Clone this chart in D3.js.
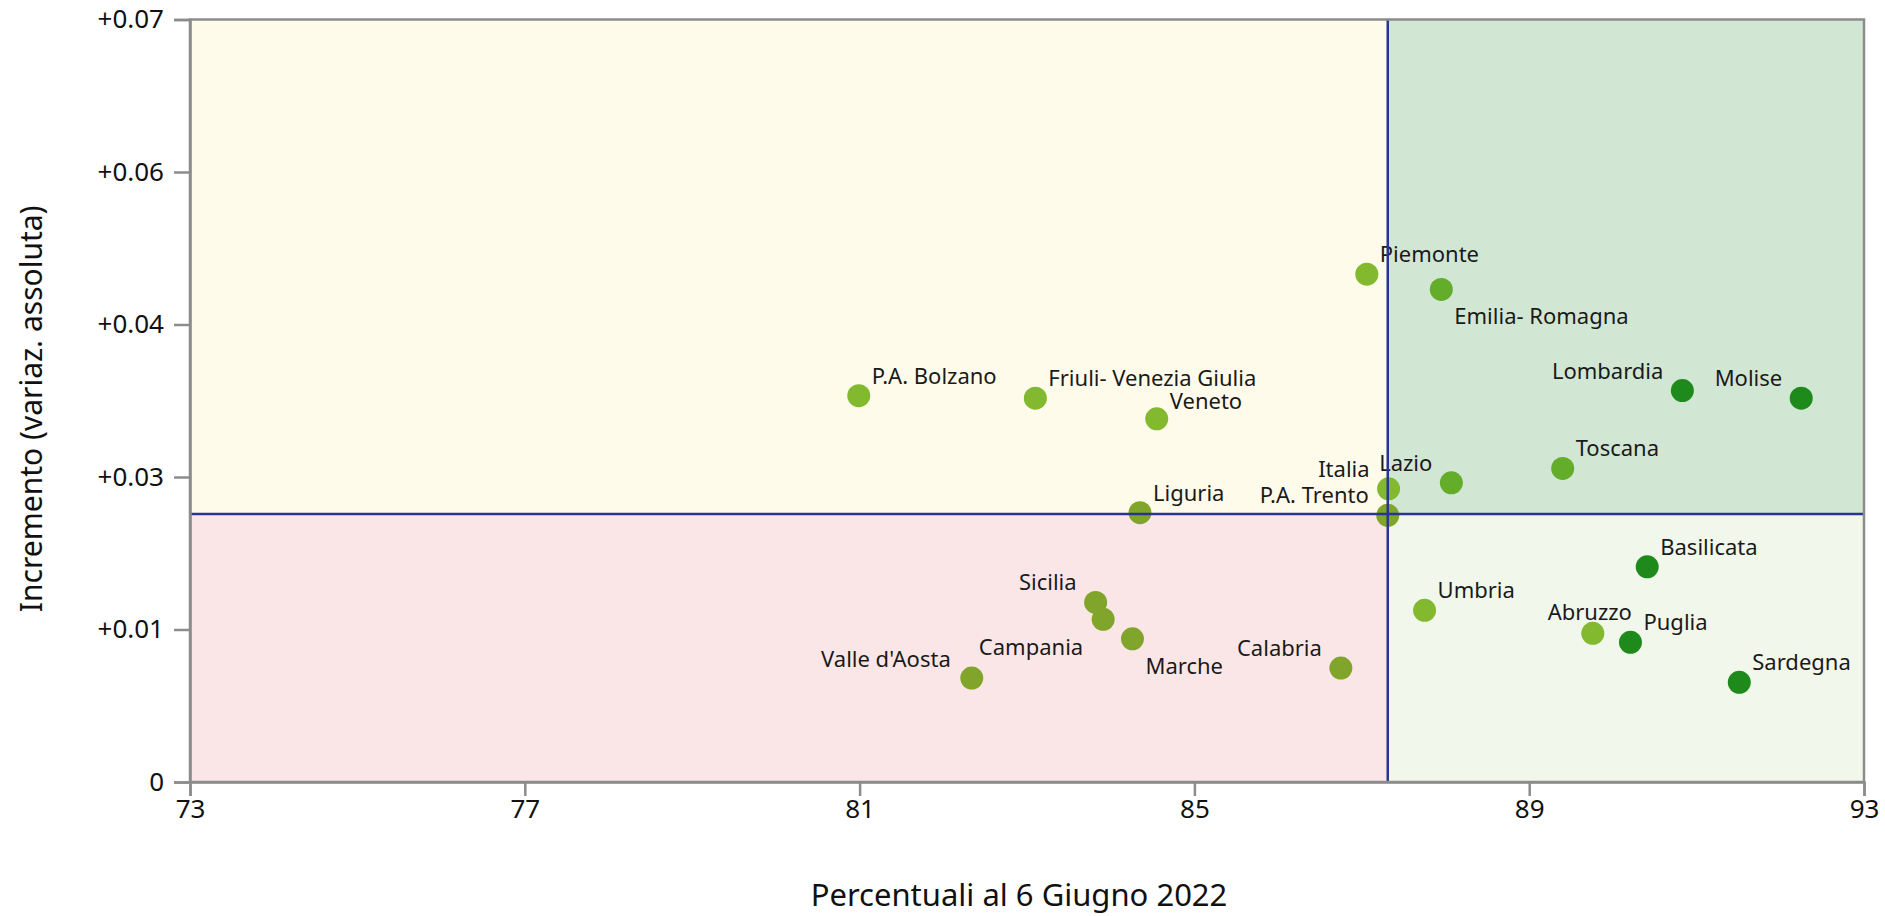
<!DOCTYPE html>
<html lang="it">
<head>
<meta charset="utf-8">
<title>Incremento vs percentuali al 6 Giugno 2022</title>
<script src="https://cdn.jsdelivr.net/npm/d3@7"></script>
<style>
  html, body { margin: 0; padding: 0; background: #ffffff; }
  svg { display: block; font-family: "Noto Sans", "Open Sans", sans-serif; }
</style>
</head>
<body>
<svg id="chart" width="1885" height="916"></svg>
<script>
// Regioni e valori
const regioni = [
  "P.A. Bolzano", "Friuli- Venezia Giulia", "Veneto", "Liguria", "Piemonte",
  "Emilia- Romagna", "Lombardia", "Molise", "Toscana", "Lazio", "Italia",
  "P.A. Trento", "Basilicata", "Umbria", "Abruzzo", "Puglia", "Sardegna",
  "Sicilia", "Campania", "Marche", "Valle d'Aosta", "Calabria"
];
// Percentuali al 6 Giugno 2022
const percentuali = [
  80.99, 83.10, 84.55, 84.35, 87.06,
  87.95, 90.83, 92.25, 89.40, 88.07, 87.32,
  87.31, 90.41, 87.75, 89.76, 90.21, 91.51,
  83.82, 83.91, 84.26, 82.34, 86.75
];
// Incremento (variazione assoluta)
const incrementi = [
  0.03547, 0.03524, 0.03334, 0.02472, 0.04662,
  0.04522, 0.03593, 0.03524, 0.02879, 0.02747, 0.02692,
  0.02448, 0.01976, 0.01576, 0.01365, 0.01282, 0.00915,
  0.01649, 0.01493, 0.01315, 0.00954, 0.01046
];
// Fascia di appartenenza di ciascuna regione
const fasce = [
  "C", "C", "C", "D", "C",
  "B", "A", "A", "B", "B", "C",
  "D", "A", "C", "C", "A", "A",
  "D", "D", "D", "D", "D"
];
// Posizione dell'etichetta rispetto al punto
const posizioni = [
  "ne", "ne", "ne", "ne", "ne",
  "se", "nw", "nw", "ne", "nw", "nw",
  "nw", "ne", "ne", "n", "ne", "ne",
  "nw", "sw", "se", "w", "nw"
];

// Valori di riferimento (linee dei quadranti)
const rifX = 87.31;
const rifY = 0.0246;

// Assi
const xDominio = [73, 93];
const yDominio = [0, 0.07];
const xTicks = [73, 77, 81, 85, 89, 93];
const yTicks = [0, 0.014, 0.028, 0.042, 0.056, 0.07];
const yTickLabels = ["0", "+0.01", "+0.03", "+0.04", "+0.06", "+0.07"];
const titoloX = "Percentuali al 6 Giugno 2022";
const titoloY = "Incremento (variaz. assoluta)";

const punti = regioni.map((r, i) => ({
  nome: r, x: percentuali[i], y: incrementi[i], fascia: fasce[i], pos: posizioni[i]
}));

const W = 1885, H = 916;
const area = { left: 190, right: 1864, top: 19.5, bottom: 782 };

const x = d3.scaleLinear().domain(xDominio).range([area.left, area.right]);
const y = d3.scaleLinear().domain(yDominio).range([area.bottom, area.top]);

const colore = d3.scaleOrdinal()
  .domain(["A", "B", "C", "D"])
  .range(["#1f8a1c", "#64ad2b", "#83b92e", "#80a52a"]);

const svg = d3.select("#chart");

// Quadranti
const quadranti = [
  { x0: xDominio[0], x1: rifX, y0: rifY, y1: yDominio[1], fill: "#fffbeb" },
  { x0: rifX, x1: xDominio[1], y0: rifY, y1: yDominio[1], fill: "#d2e7d3" },
  { x0: xDominio[0], x1: rifX, y0: yDominio[0], y1: rifY, fill: "#fbe6e7" },
  { x0: rifX, x1: xDominio[1], y0: yDominio[0], y1: rifY, fill: "#f1f7ea" }
];
svg.append("g").selectAll("rect").data(quadranti).join("rect")
  .attr("x", d => x(d.x0))
  .attr("y", d => y(d.y1))
  .attr("width", d => x(d.x1) - x(d.x0))
  .attr("height", d => y(d.y0) - y(d.y1))
  .attr("fill", d => d.fill);

// Punti
svg.append("g").selectAll("circle").data(punti).join("circle")
  .attr("cx", d => x(d.x))
  .attr("cy", d => y(d.y))
  .attr("r", 11.5)
  .attr("fill", d => colore(d.fascia));

// Etichette
const offset = {
  ne: { dx: 13, dy: -12, anchor: "start" },
  nw: { dx: -19, dy: -12, anchor: "end" },
  n:  { dx: -3, dy: -13, anchor: "middle" },
  se: { dx: 13, dy: 35, anchor: "start" },
  sw: { dx: -20, dy: 36, anchor: "end" },
  w:  { dx: -21, dy: -11, anchor: "end" }
};
svg.append("g").selectAll("text").data(punti).join("text")
  .attr("x", d => x(d.x) + offset[d.pos].dx)
  .attr("y", d => y(d.y) + offset[d.pos].dy + (d.nome === "Veneto" ? 2 : 0))
  .attr("text-anchor", d => offset[d.pos].anchor)
  .attr("font-size", 22)
  .attr("fill", "#1a1a1a")
  .text(d => d.nome);

// Linee di riferimento
const rif = svg.append("g").attr("stroke", "#283593").attr("stroke-width", 2.5);
rif.append("line")
  .attr("x1", x(rifX)).attr("x2", x(rifX))
  .attr("y1", y(yDominio[1])).attr("y2", y(yDominio[0]));
rif.append("line")
  .attr("x1", x(xDominio[0])).attr("x2", x(xDominio[1]))
  .attr("y1", y(rifY)).attr("y2", y(rifY));

// Cornice
svg.append("rect")
  .attr("x", area.left).attr("y", area.top)
  .attr("width", area.right - area.left).attr("height", area.bottom - area.top)
  .attr("fill", "none").attr("stroke", "#8c8c8c").attr("stroke-width", 2.5);

// Asse Y
const yAxis = svg.append("g")
  .attr("transform", `translate(${area.left},0)`)
  .call(d3.axisLeft(y).tickValues(yTicks)
    .tickFormat((d, i) => yTickLabels[i]).tickSize(16).tickPadding(10));

// Asse X
const xAxis = svg.append("g")
  .attr("transform", `translate(0,${area.bottom})`)
  .call(d3.axisBottom(x).tickValues(xTicks)
    .tickFormat(d3.format("d")).tickSize(14).tickPadding(4));

[xAxis, yAxis].forEach(a => {
  a.select(".domain").attr("stroke", "#8c8c8c").attr("stroke-width", 2.5);
  a.selectAll(".tick line").attr("stroke", "#8c8c8c").attr("stroke-width", 2.5);
  a.selectAll(".tick text").attr("font-size", 26).attr("fill", "#111")
    .attr("font-family", "'Noto Sans', sans-serif");
});

// Titoli degli assi
svg.append("text")
  .attr("x", (area.left + area.right) / 2 - 8).attr("y", 906)
  .attr("text-anchor", "middle")
  .attr("font-size", 31).attr("fill", "#111")
  .text(titoloX);

svg.append("text")
  .attr("transform", `translate(42,${(area.top + area.bottom) / 2 + 8}) rotate(-90)`)
  .attr("text-anchor", "middle")
  .attr("font-size", 30).attr("fill", "#111")
  .text(titoloY);
</script>
</body>
</html>
